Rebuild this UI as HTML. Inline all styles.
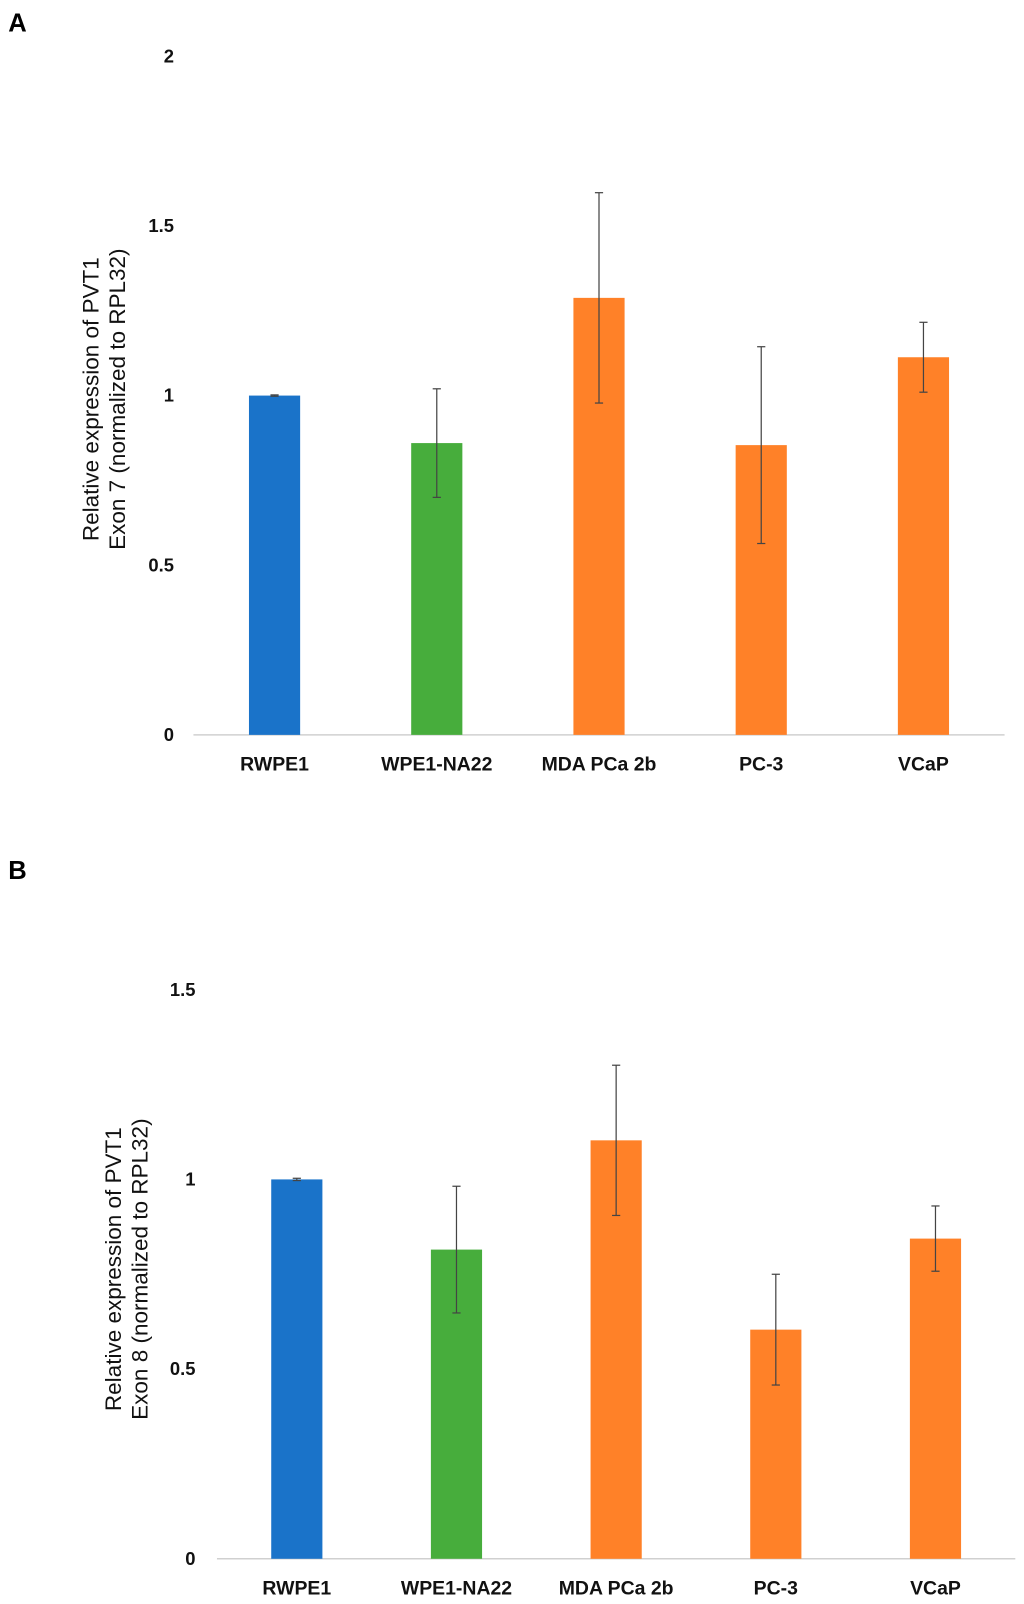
<!DOCTYPE html>
<html><head><meta charset="utf-8"><style>
body{margin:0;background:#fff;}
svg{display:block;font-family:"Liberation Sans",Arial,sans-serif;}
</style></head><body>
<svg width="1024" height="1604" viewBox="0 0 1024 1604">
<g id="s" transform="scale(1.0235)">
<text x="8" y="31" font-size="25" font-weight="bold">A</text>
<text x="8" y="859" font-size="25" font-weight="bold">B</text>
</g>
</svg>
<script>
const categories=["RWPE1","WPE1-NA22","MDA PCa 2b","PC-3","VCaP"];
const colors=["#1a73c9","#47ad3c","#ff8128","#ff8128","#ff8128"];
const valuesA=[1.0,0.86,1.288,0.854,1.113];
const errorsA=[0.002,0.16,0.31,0.29,0.103];
const ticksA=[0,0.5,1,1.5,2];
const tickLabelsA=["0","0.5","1","1.5","2"];
const valuesB=[1.0,0.815,1.103,0.604,0.844];
const errorsB=[0.003,0.167,0.198,0.146,0.086];
const ticksB=[0,0.5,1,1.5];
const tickLabelsB=["0","0.5","1","1.5"];
const NS="http://www.w3.org/2000/svg";
const svg=document.getElementById('s');
function mk(tag,attrs,txt){const e=document.createElementNS(NS,tag);for(const k in attrs)e.setAttribute(k,attrs[k]);if(txt!==undefined)e.textContent=txt;svg.appendChild(e);return e;}
function chart(cfg){
  const y=v=>cfg.y0-(v-0)*(cfg.y0-cfg.yTop)/cfg.ymax;
  const x=i=>cfg.x0+cfg.step*(i+0.5);
  cfg.ticks.forEach((t,i)=>{
    const e=mk('text',{x:cfg.tickX,y:y(t)+6,'font-size':18,'font-weight':'bold','text-anchor':'end',fill:'#111'},cfg.tickLabels[i]);
    
    
  });
  const ax=mk('line',{x1:cfg.x0,x2:cfg.x0+cfg.step*5,y1:cfg.y0,y2:cfg.y0,stroke:'#d0d0d0','stroke-width':1.5});
  
  
  cfg.values.forEach((v,i)=>{
    const r=mk('rect',{x:x(i)-25,y:y(v),width:50,height:cfg.y0-y(v),fill:colors[i]});
    
    
    const e=cfg.errors[i],g=[];
    g.push(mk('line',{x1:x(i),x2:x(i),y1:y(v+e),y2:y(v-e),stroke:'#444','stroke-width':1.2}));
    g.push(mk('line',{x1:x(i)-4,x2:x(i)+4,y1:y(v+e),y2:y(v+e),stroke:'#444','stroke-width':1.2}));
    g.push(mk('line',{x1:x(i)-4,x2:x(i)+4,y1:y(v-e),y2:y(v-e),stroke:'#444','stroke-width':1.2}));
    g.forEach(l=>{});
    const t=mk('text',{x:x(i),y:cfg.y0+35,'font-size':19,'font-weight':'bold','text-anchor':'middle',fill:'#111'},categories[i]);
    
    
  });
  const tt=mk('text',{transform:`translate(${cfg.titleX},${cfg.titleY}) rotate(-90)`,'font-size':22,'text-anchor':'middle',fill:'#111'});
  
  
  const a=document.createElementNS(NS,'tspan');a.setAttribute('x',0);a.setAttribute('dy',0);a.textContent='Relative expression of PVT1';tt.appendChild(a);
  const b=document.createElementNS(NS,'tspan');b.setAttribute('x',0);b.setAttribute('dy',26);b.textContent=cfg.exon+' (normalized to RPL32)';tt.appendChild(b);
}
chart({p:'chart-a',values:valuesA,errors:errorsA,ticks:ticksA,tickLabels:tickLabelsA,ymax:2,y0:718,yTop:55,x0:189,step:158.5,tickX:170,titleX:96,titleY:390,exon:'Exon 7'});
chart({p:'chart-b',values:valuesB,errors:errorsB,ticks:ticksB,tickLabels:tickLabelsB,ymax:1.5,y0:1523,yTop:967,x0:212,step:156,tickX:191,titleX:118,titleY:1240,exon:'Exon 8'});
</script>
</body></html>
